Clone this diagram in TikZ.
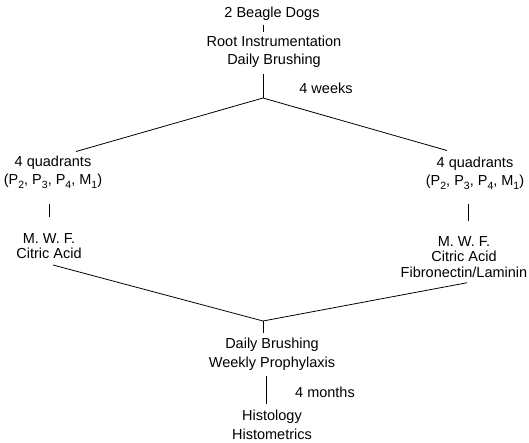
\documentclass[tikz,border=0pt]{standalone}
\usepackage{fontspec}
\setmainfont{Liberation Sans}
\usepackage{tikz}
\usetikzlibrary{calc}
\newcommand{\lowsub}[1]{\raisebox{-.45ex}{\fontsize{10.5}{10.5}\selectfont #1}}

\begin{document}
\begin{tikzpicture}[x=1pt, y=-1pt,
    txt/.style = {align=center, inner sep=2pt, font=\fontsize{14.5}{18.5}\selectfont},
    tight/.style = {txt, font=\fontsize{14.5}{15.5}\selectfont},
    link/.style = {line width=.8pt},
    stub/.style = {link, shorten <=#1, shorten >=#1}]
      \useasboundingbox (0,0) rectangle (529,443);
      \coordinate (apexT) at (263, 98);
      \coordinate (apexB) at (263, 321);
      \node [txt] (dogs) at (272, 14) {2 Beagle Dogs};
      \node [txt] (root) at (274, 52) {Root Instrumentation\\Daily Brushing};
      \node [txt] (weeks) at (326, 88) {4 weeks};
      \node [txt] (quadL) at (53, 172) {4 quadrants\\(P\lowsub{2}, P\lowsub{3}, P\lowsub{4}, M\lowsub{1})};
      \node [tight] (trtL) at (49, 246) {M. W. F.\\Citric Acid};
      \node [txt] (quadR) at (475, 173) {4 quadrants\\(P\lowsub{2}, P\lowsub{3}, P\lowsub{4}, M\lowsub{1})};
      \node [tight] (trtR) at (464, 257) {M. W. F.\\Citric Acid\\Fibronectin/Laminin};
      \node [txt] (brush) at (272, 354) {Daily Brushing\\Weekly Prophylaxis};
      \node [txt] (months) at (325, 392) {4 months};
      \node [txt] (hist) at (272, 425) {Histology\\Histometrics};

      \draw [stub=2pt] (dogs.south -| apexT) -- (root.north -| apexT);
      \draw [link, shorten <=4pt] (root.south -| apexT) -- (apexT);
      \draw [link] (apexT) -- ([xshift=23pt, yshift=2pt]quadL.north);
      \draw [link] (apexT) -- ([xshift=-28pt, yshift=4pt]quadR.north);
      \draw [stub=14pt] ([xshift=-4pt]quadL.south) -- ([xshift=-4pt]quadL.south |- trtL.north);
      \draw [stub=13pt] ([xshift=-7pt]quadR.south) -- ([xshift=-7pt]quadR.south |- trtR.north);
      \draw [link] ([xshift=4pt, yshift=-4pt]trtL.south) -- (apexB);
      \draw [link] ([xshift=3pt, yshift=-3pt]trtR.south) -- (apexB);
      \draw [link, shorten >=3pt] (apexB) -- (apexB |- brush.north);
      \draw [stub=4pt] ([xshift=-6pt]brush.south) -- ([xshift=-6pt]brush.south |- hist.north);
\end{tikzpicture}
\end{document}
